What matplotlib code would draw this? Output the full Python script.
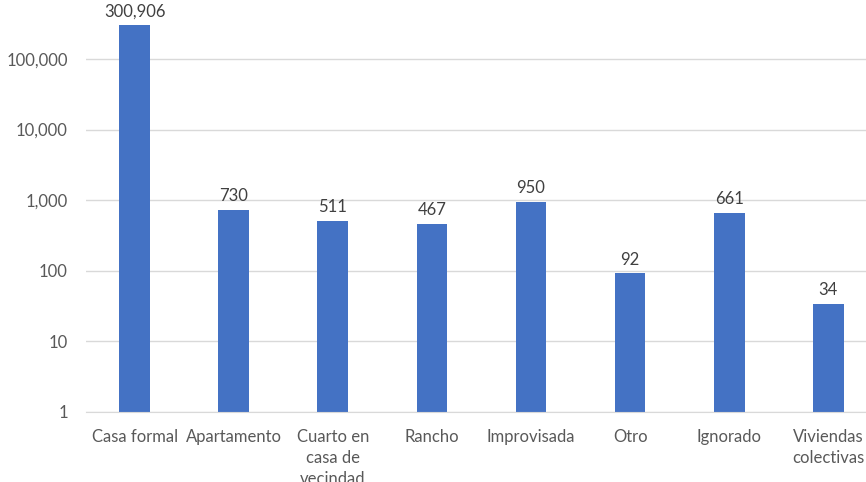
import matplotlib.pyplot as plt
from matplotlib.ticker import FixedLocator, FuncFormatter

categories = ["Casa formal", "Apartamento", "Cuarto en\ncasa de\nvecindad", "Rancho",
              "Improvisada", "Otro", "Ignorado", "Viviendas\ncolectivas"]
values = [300906, 730, 511, 467, 950, 92, 661, 34]
y_ticks = [1, 10, 100, 1000, 10000, 100000]

plt.rcParams["font.family"] = ["Lato", "DejaVu Sans"]
TEXT = "#595959"

fig = plt.figure(figsize=(8.66, 4.82), dpi=100)
ax = fig.add_axes([86 / 866, 1 - 412 / 482, 1 - 86 / 866, 412 / 482])

x = list(range(len(categories)))
ax.bar(x, values, width=0.31, color="#4472C4", zorder=2)
ax.set_yscale("log")
ax.set_ylim(1, 6.85e5)
ax.set_xlim(-0.49, 7.38)

ax.yaxis.set_major_locator(FixedLocator(y_ticks))
ax.yaxis.set_minor_locator(FixedLocator([]))
ax.yaxis.set_major_formatter(FuncFormatter(lambda v, p: f"{int(round(v)):,}"))
ax.grid(axis="y", color="#d9d9d9", linewidth=1, zorder=0)

ax.set_xticks(x)
ax.set_xticklabels(categories, fontsize=12, color=TEXT, linespacing=1.4, va="top")
ax.tick_params(axis="x", length=0, pad=12)
ax.tick_params(axis="y", length=0, pad=13, labelsize=12, labelcolor=TEXT)

for s in ["top", "right", "left"]:
    ax.spines[s].set_visible(False)
ax.spines["bottom"].set_color("#d9d9d9")

for xi, v in zip(x, values):
    ax.annotate(f"{v:,}", (xi, v), xytext=(0, 4), textcoords="offset points",
                ha="center", va="bottom", fontsize=12, color="#404040")

fig.savefig("out.png", dpi=100)
